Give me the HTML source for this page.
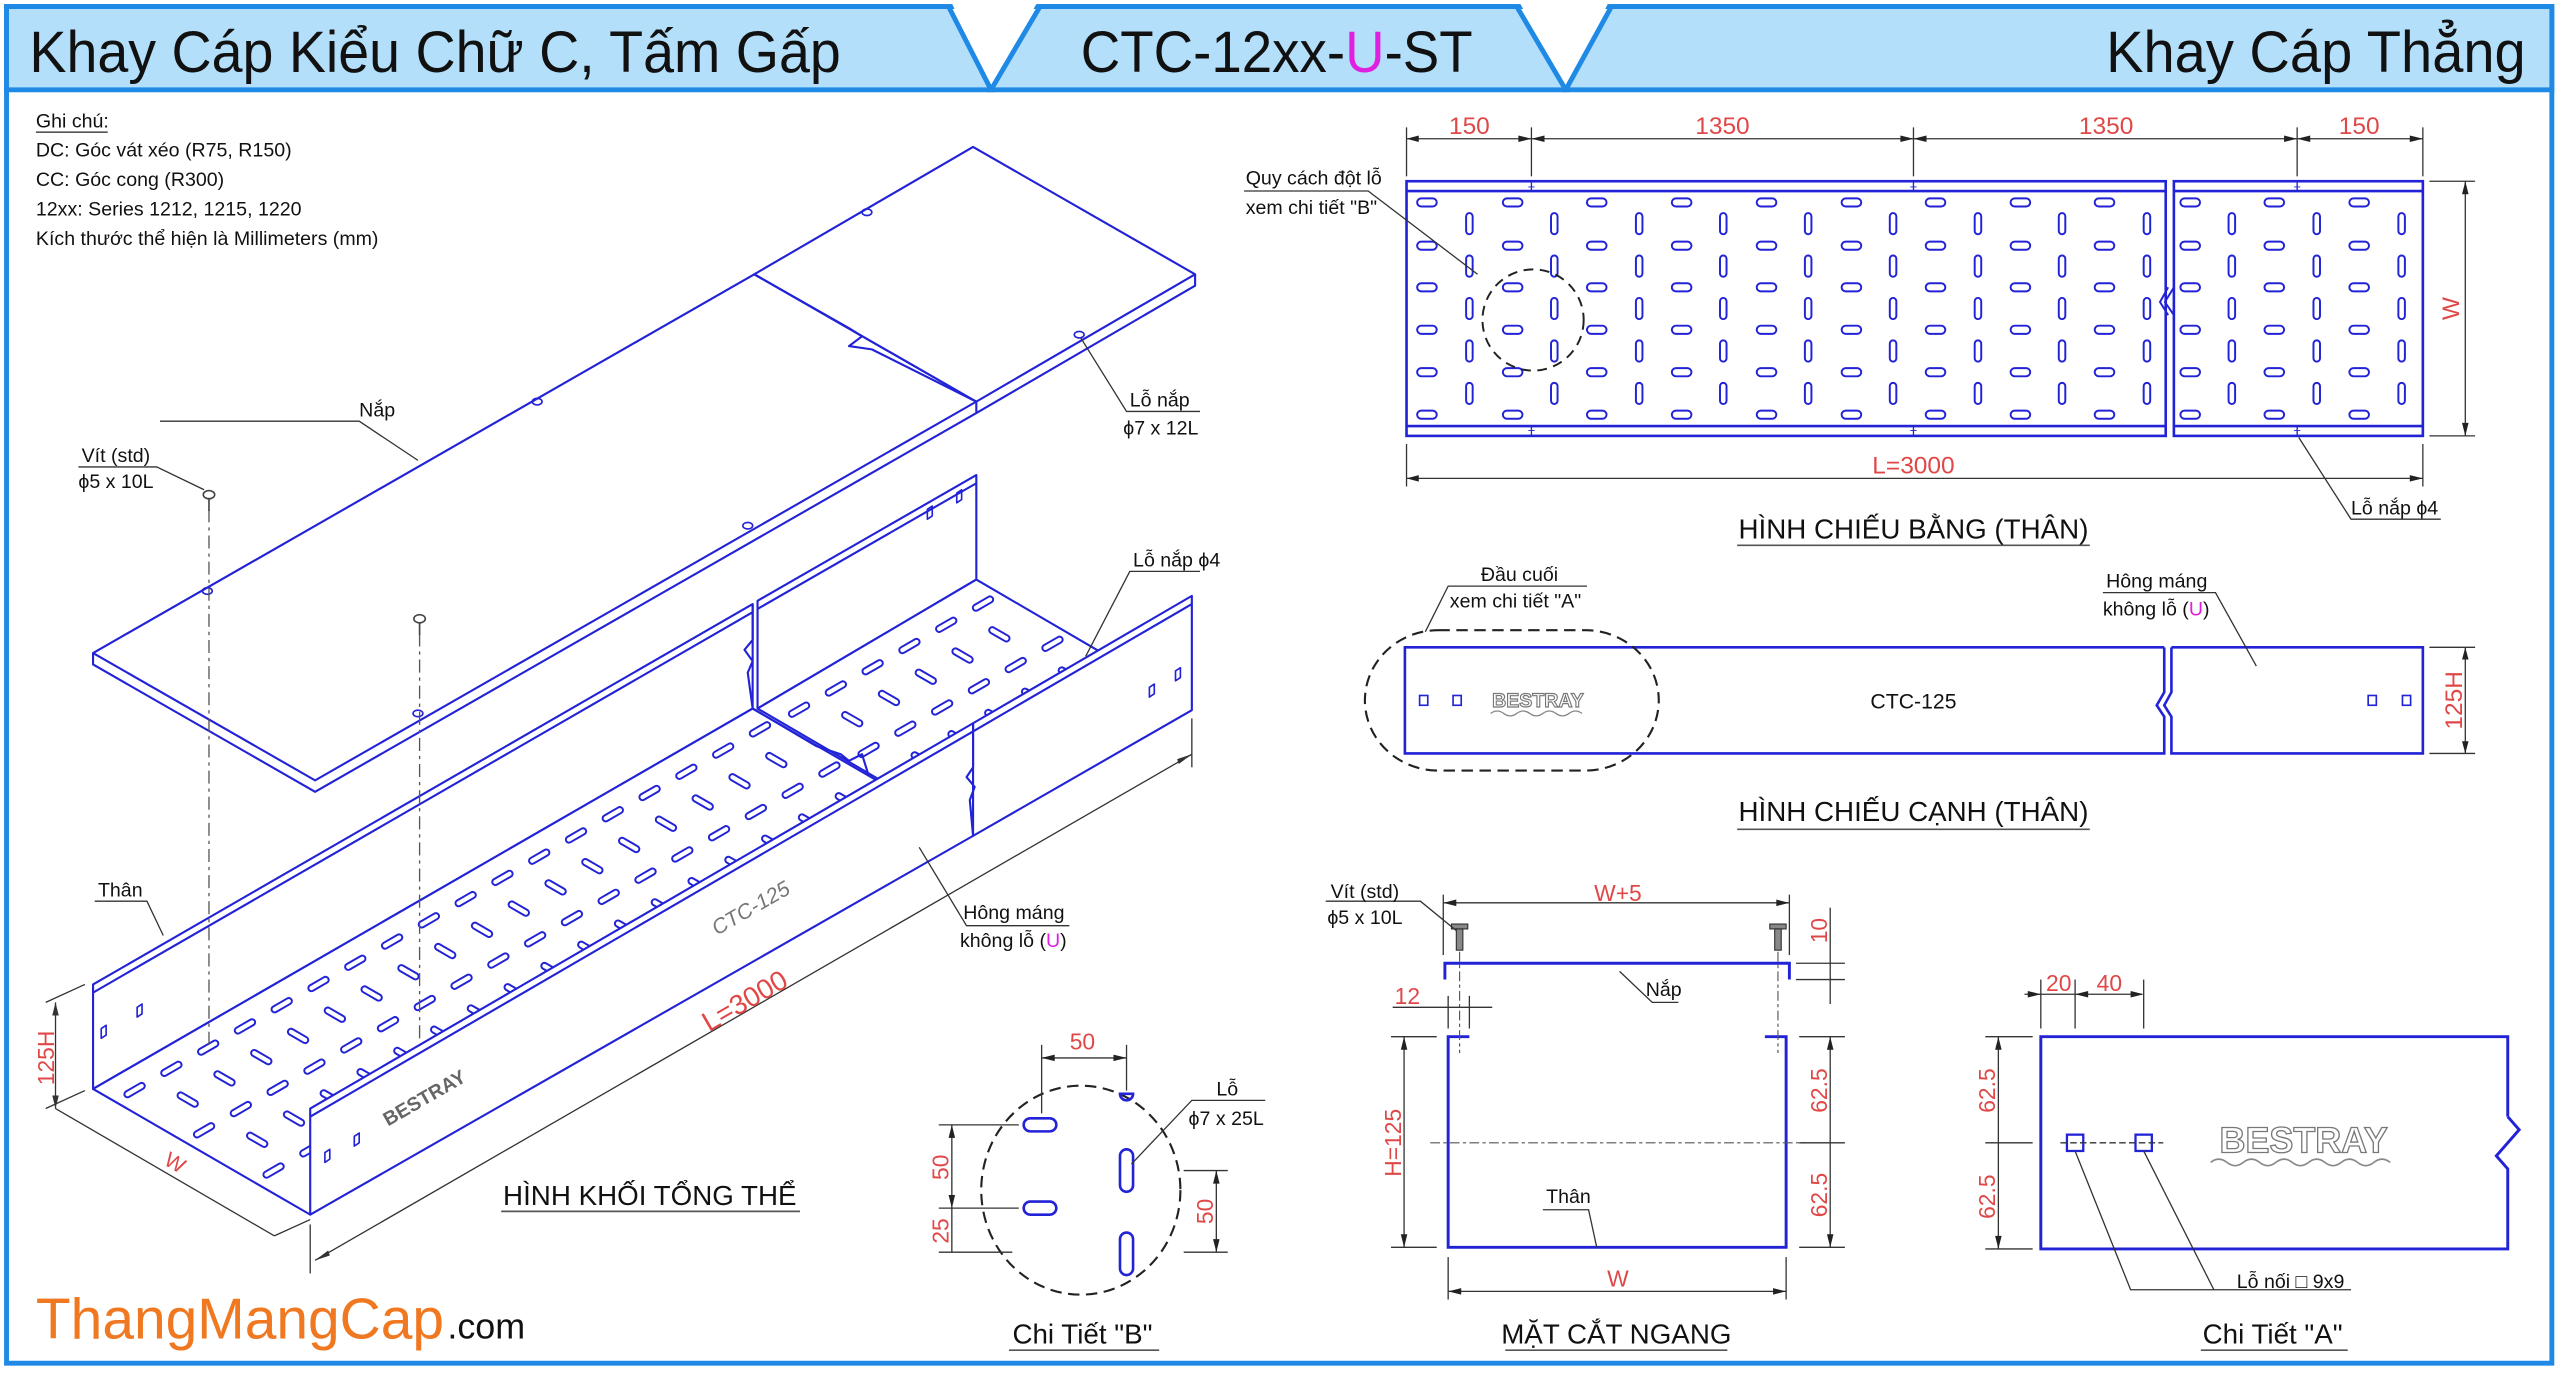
<!DOCTYPE html>
<html><head><meta charset="utf-8">
<style>
html,body{margin:0;padding:0;background:#fff;}
svg{display:block;}
text{font-family:"Liberation Sans",sans-serif;}
</style></head>
<body>
<svg id="s" width="2560" height="1373" viewBox="0 0 1568 841" preserveAspectRatio="none" xmlns="http://www.w3.org/2000/svg">
<rect x="0" y="0" width="1568" height="841" fill="#fff"/>
<rect x="4" y="4" width="1559" height="831" fill="none" stroke="#1e8ae6" stroke-width="3"/>
<polygon points="583,2 635,2 607,52" fill="#fff"/>
<polygon points="931,2 985,2 959,52" fill="#fff"/>
<!-- header -->
<g fill="#b3dffb" stroke="#1e8ae6" stroke-width="3" stroke-linejoin="miter">
<polygon points="4,4 581,4 607,55 4,55"/>
<polygon points="637,4 929,4 959,55 607,55"/>
<polygon points="987,4 1563,4 1563,55 959,55"/>
</g>
<text x="18" y="44" font-size="36" fill="#111" textLength="497" lengthAdjust="spacingAndGlyphs">Khay Cáp Kiểu Chữ C, Tấm Gấp</text>
<text x="662" y="44" font-size="36" fill="#111" textLength="240" lengthAdjust="spacingAndGlyphs">CTC-12xx-<tspan fill="#e020e0">U</tspan>-ST</text>
<text x="1290" y="44" font-size="36" fill="#111" textLength="257" lengthAdjust="spacingAndGlyphs">Khay Cáp Thẳng</text>

<!-- notes -->
<g font-size="12" fill="#111">
<text x="22" y="78">Ghi chú:</text>
<line x1="22" y1="81" x2="66" y2="81" stroke="#555" stroke-width="1"/>
<text x="22" y="96">DC: Góc vát xéo (R75, R150)</text>
<text x="22" y="114">CC: Góc cong (R300)</text>
<text x="22" y="132">12xx: Series 1212, 1215, 1220</text>
<text x="22" y="150">Kích thước thể hiện là Millimeters (mm)</text>
</g>

<g id="iso" stroke="#2222d6" stroke-width="1.3" fill="#fff" stroke-linejoin="round">
<polygon points="57,400 462,168 598,246 193,478"/>
<polyline points="57,400 57,407 193,485 598,253 598,246" fill="none"/>
<polygon points="462,168 596,90 732,168 598,246" />
<polyline points="598,253 732,175 732,168" fill="none"/>
<polyline points="462,168 520,201 528,206 520,212 534,214 598,246" fill="none"/>
<polygon points="57,603 461,370 461,434 57,667"/>
<line x1="57" y1="608" x2="461" y2="375"/>
<polygon points="464,368 598,291 598,355 464,434"/>
<line x1="464" y1="373" x2="598" y2="296"/>
<polyline points="461,370 461,392 456,398 461,405 458,412 461,434" fill="none"/>
<polygon points="57,667 461,434 594,511 190,744"/>
<polygon points="464,434 598,355 730,432 596,511"/>
</g>
<g id="slots"></g>
<g stroke="#2222d6" stroke-width="1.3" fill="#fff" stroke-linejoin="round">
<polyline points="461,434 500,457 515,462 520,466 528,462 532,475" fill="none"/>
<polygon points="190,679 596,443 596,512 190,744"/>
<line x1="190" y1="684" x2="596" y2="448"/>
<polygon points="596,443 730,365 730,435 596,512"/>
<line x1="596" y1="448" x2="730" y2="370"/>
<polyline points="596,443 596,470 592,476 597,482 594,490 596,512" fill="none"/>
<g fill="none" stroke-width="1">
<polygon points="62,630 65,628 65,634 62,636"/><polygon points="84,617 87,615 87,621 84,623"/>
<polygon points="199,706 202,704 202,710 199,712"/><polygon points="217,696 220,694 220,700 217,702"/>
<polygon points="704,421 707,419 707,425 704,427"/><polygon points="720,411 723,409 723,415 720,417"/>
<polygon points="568,312 571,310 571,316 568,318"/><polygon points="586,302 589,300 589,306 586,308"/>
</g>
<g fill="none" stroke-width="1">
<ellipse cx="127" cy="362" rx="3" ry="2"/><ellipse cx="329" cy="246" rx="3" ry="2"/><ellipse cx="531" cy="130" rx="3" ry="2"/>
<ellipse cx="256" cy="437" rx="3" ry="2"/><ellipse cx="458" cy="322" rx="3" ry="2"/><ellipse cx="661" cy="205" rx="3" ry="2"/>
</g>
</g>
<g stroke="#555" stroke-width="0.8" stroke-dasharray="8,3,2,3" fill="none">
<line x1="128" y1="312" x2="128" y2="640"/>
<line x1="257" y1="388" x2="257" y2="636"/>
</g>
<g fill="#fff" stroke="#444" stroke-width="1">
<ellipse cx="128" cy="303" rx="3.5" ry="2.5"/><line x1="128" y1="305" x2="128" y2="313"/>
<ellipse cx="257" cy="379" rx="3.5" ry="2.5"/><line x1="257" y1="381" x2="257" y2="389"/>
</g>
<g stroke="#333" stroke-width="0.8" fill="none">
<line x1="193" y1="772" x2="730" y2="462"/>
<line x1="190" y1="750" x2="190" y2="780"/><line x1="730" y1="440" x2="730" y2="470"/>
<line x1="34" y1="614" x2="34" y2="679"/>
<line x1="28" y1="614" x2="52" y2="603"/><line x1="28" y1="679" x2="52" y2="668"/>
<line x1="34" y1="679" x2="168" y2="757"/>
<line x1="168" y1="757" x2="190" y2="747"/>
<polyline points="98,258 220,258 256,282"/>
<polyline points="48,286 96,286 125,300"/>
<polyline points="58,552 90,552 100,573"/>
<polyline points="735,350 692,350 665,402"/>
<polyline points="735,252 690,252 662,207"/>
<polyline points="655,567 592,567 563,519"/>
</g>
<g fill="#333">
<polygon points="193,772 201,766 202,769"/><polygon points="730,462 722,468 721,465"/>
<polygon points="34,614 32,622 36,622"/><polygon points="34,679 32,671 36,671"/>
</g>
<g font-size="12" fill="#111">
<text x="220" y="255">Nắp</text>
<text x="50" y="283">Vít (std)</text><text x="48" y="299">ϕ5 x 10L</text>
<text x="60" y="549">Thân</text>
<text x="694" y="347">Lỗ nắp ϕ4</text>
<text x="692" y="249">Lỗ nắp</text><text x="688" y="266">ϕ7 x 12L</text>
<text x="590" y="563">Hông máng</text><text x="588" y="580">không lỗ (<tspan fill="#e020e0">U</tspan>)</text>
</g>
<text x="462" y="560" font-size="13" fill="#777" font-style="italic" transform="rotate(-30 462 560)" text-anchor="middle">CTC-125</text>
<text x="459" y="618" font-size="17" fill="#e04848" transform="rotate(-30 459 618)" text-anchor="middle">L=3000</text>
<text x="33" y="648" font-size="14" fill="#e04848" transform="rotate(-90 33 648)" text-anchor="middle">125H</text>
<text x="105" y="716" font-size="13" fill="#e04848" transform="rotate(30 105 716)" text-anchor="middle">W</text>
<text x="262" y="676" font-size="12" fill="#666" font-weight="bold" transform="rotate(-30 262 676)" text-anchor="middle">BESTRAY</text>
<text x="398" y="738" font-size="17" fill="#111" text-anchor="middle">HÌNH KHỐI TỔNG THỂ</text>
<line x1="307" y1="742" x2="490" y2="742" stroke="#555" stroke-width="1"/>

<!-- TOP PLAN -->
<g stroke="#2222d6" stroke-width="1.6" fill="none">
<rect x="861.5" y="111" width="465" height="156"/>
<rect x="1331.5" y="111" width="152.5" height="156"/>
<line x1="861.5" y1="117" x2="1326.5" y2="117"/><line x1="861.5" y1="261" x2="1326.5" y2="261"/>
<line x1="1331.5" y1="117" x2="1484" y2="117"/><line x1="1331.5" y1="261" x2="1484" y2="261"/>
</g>
<polyline points="1328,176 1323,185 1328,193" stroke="#2222d6" fill="none" stroke-width="1.2"/>
<polyline points="1331.5,176 1326,185 1331.5,193" stroke="#2222d6" fill="none" stroke-width="1.2"/>
<g id="plan"></g>
<ellipse cx="939" cy="196" rx="31" ry="31" fill="none" stroke="#222" stroke-width="1.2" stroke-dasharray="6,4"/>
<g stroke="#333" stroke-width="0.8" fill="none">
<line x1="861.5" y1="85" x2="1484" y2="85"/>
<line x1="861.5" y1="78" x2="861.5" y2="108"/><line x1="938" y1="78" x2="938" y2="108"/>
<line x1="1172" y1="78" x2="1172" y2="108"/><line x1="1407" y1="78" x2="1407" y2="108"/>
<line x1="1484" y1="78" x2="1484" y2="108"/>
<line x1="861.5" y1="293" x2="1484" y2="293"/>
<line x1="861.5" y1="272" x2="861.5" y2="298"/><line x1="1484" y1="272" x2="1484" y2="298"/>
<line x1="1510" y1="111" x2="1510" y2="267"/>
<line x1="1488" y1="111" x2="1516" y2="111"/><line x1="1488" y1="267" x2="1516" y2="267"/>
<polyline points="762,117 838,117 905,168"/>
<polyline points="1495,318 1440,318 1408,268"/>
</g>
<g fill="#222">
<polygon points="861.5,85 869,83 869,87"/><polygon points="938,85 930,83 930,87"/><polygon points="938,85 946,83 946,87"/>
<polygon points="1172,85 1164,83 1164,87"/><polygon points="1172,85 1180,83 1180,87"/>
<polygon points="1407,85 1399,83 1399,87"/><polygon points="1407,85 1415,83 1415,87"/><polygon points="1484,85 1476,83 1476,87"/>
<polygon points="861.5,293 869,291 869,295"/><polygon points="1484,293 1476,291 1476,295"/>
<polygon points="1510,111 1508,119 1512,119"/><polygon points="1510,267 1508,259 1512,259"/>
</g>
<g fill="#e04848" font-size="15" text-anchor="middle">
<text x="900" y="82">150</text><text x="1055" y="82">1350</text><text x="1290" y="82">1350</text><text x="1445" y="82">150</text>
<text x="1172" y="290">L=3000</text>
<text x="1506" y="189" transform="rotate(-90 1506 189)">W</text>
</g>
<g font-size="12" fill="#111">
<text x="763" y="113">Quy cách đột lỗ</text><text x="763" y="131">xem chi tiết "B"</text>
<text x="1440" y="315">Lỗ nắp ϕ4</text>
</g>
<text x="1172" y="330" font-size="17" fill="#111" text-anchor="middle">HÌNH CHIẾU BẰNG (THÂN)</text>
<line x1="1064" y1="334" x2="1280" y2="334" stroke="#555"/>

<!-- SIDE VIEW -->
<g stroke="#2222d6" stroke-width="1.6" fill="none">
<polyline points="1325.6,396.5 860.5,396.5 860.5,461.5 1325.6,461.5 1325.6,439 1321,432 1325.6,424 1325.6,396.5"/>
<polyline points="1330,396.5 1484,396.5 1484,461.5 1330,461.5 1330,439 1325.6,432 1330,424 1330,396.5"/>
<g stroke-width="1"><rect x="869.5" y="426" width="5" height="6"/><rect x="890" y="426" width="5" height="6"/>
<rect x="1450.5" y="426" width="5" height="6"/><rect x="1471.5" y="426" width="5" height="6"/></g>
</g>
<rect x="836" y="386" width="180" height="86" rx="45" ry="43" fill="none" stroke="#222" stroke-width="1.3" stroke-dasharray="7,4"/>
<text x="942" y="433" font-size="12" font-weight="bold" fill="#fff" stroke="#777" stroke-width="0.7" text-anchor="middle">BESTRAY</text>
<path d="M913 437 q4 -3 8 0 t8 0 t8 0 t8 0 t8 0 t8 0 t8 0" fill="none" stroke="#888" stroke-width="0.8"/>
<text x="1172" y="434" font-size="13" fill="#111" text-anchor="middle">CTC-125</text>
<g stroke="#333" stroke-width="0.8" fill="none">
<line x1="1510" y1="396.5" x2="1510" y2="461.5"/>
<line x1="1488" y1="396.5" x2="1516" y2="396.5"/><line x1="1488" y1="461.5" x2="1516" y2="461.5"/>
<polyline points="972,359 887,359 873,387"/>
<polyline points="1288,363 1357,363 1382,408"/>
</g>
<g fill="#222"><polygon points="1510,396.5 1508,404 1512,404"/><polygon points="1510,461.5 1508,454 1512,454"/></g>
<text x="1508" y="429" font-size="15" fill="#e04848" text-anchor="middle" transform="rotate(-90 1508 429)">125H</text>
<g font-size="12" fill="#111">
<text x="907" y="356">Đầu cuối</text><text x="888" y="372">xem chi tiết "A"</text>
<text x="1290" y="360">Hông máng</text><text x="1288" y="377">không lỗ (<tspan fill="#e020e0">U</tspan>)</text>
</g>
<text x="1172" y="503" font-size="17" fill="#111" text-anchor="middle">HÌNH CHIẾU CẠNH (THÂN)</text>
<line x1="1064" y1="508" x2="1280" y2="508" stroke="#555"/>

<!-- CROSS SECTION -->
<g stroke="#2222d6" stroke-width="1.8" fill="none">
<polyline points="885,600 885,590 1096,590 1096,600"/>
<polyline points="900,635 887,635 887,764 1094,764 1094,635 1081,635"/>
</g>
<g stroke="#555" stroke-width="0.7" fill="none" stroke-dasharray="6,2,2,2">
<line x1="894" y1="583" x2="894" y2="645"/><line x1="1089" y1="583" x2="1089" y2="645"/>
<line x1="876" y1="700" x2="1106" y2="700"/>
</g>
<g fill="#888" stroke="#333" stroke-width="0.7">
<rect x="889" y="566" width="10" height="3"/><rect x="892" y="569" width="4" height="13"/>
<rect x="1084" y="566" width="10" height="3"/><rect x="1087" y="569" width="4" height="13"/>
</g>
<g stroke="#333" stroke-width="0.8" fill="none">
<line x1="884" y1="553" x2="1096" y2="553"/>
<line x1="884" y1="548" x2="884" y2="585"/><line x1="1096" y1="548" x2="1096" y2="585"/>
<line x1="1121" y1="556" x2="1121" y2="615"/>
<line x1="1100" y1="590" x2="1130" y2="590"/><line x1="1100" y1="600" x2="1130" y2="600"/>
<line x1="853" y1="617" x2="914" y2="617"/>
<line x1="887" y1="610" x2="887" y2="630"/><line x1="900" y1="610" x2="900" y2="630"/>
<line x1="860" y1="635" x2="860" y2="764"/>
<line x1="852" y1="635" x2="880" y2="635"/><line x1="852" y1="764" x2="880" y2="764"/>
<line x1="1121" y1="635" x2="1121" y2="764"/>
<line x1="1102" y1="635" x2="1130" y2="635"/><line x1="1102" y1="764" x2="1130" y2="764"/><line x1="1102" y1="700" x2="1130" y2="700"/>
<line x1="887" y1="770" x2="887" y2="796"/><line x1="1094" y1="770" x2="1094" y2="796"/>
<line x1="887" y1="791" x2="1094" y2="791"/>
<polyline points="812,552 870,552 892,570"/>
<polyline points="1028,614 1012,614 992,595"/>
<polyline points="945,741 973,741 978,764"/>
</g>
<g fill="#222">
<polygon points="884,553 892,551 892,555"/><polygon points="1096,553 1088,551 1088,555"/>
<polygon points="860,635 858,643 862,643"/><polygon points="860,764 858,756 862,756"/>
<polygon points="1121,635 1119,643 1123,643"/><polygon points="1121,764 1119,756 1123,756"/>
<polygon points="887,791 895,789 895,793"/><polygon points="1094,791 1086,789 1086,793"/>
</g>
<g fill="#e04848" font-size="14" text-anchor="middle">
<text x="991" y="552">W+5</text><text x="862" y="615">12</text><text x="991" y="788">W</text>
<text x="858" y="700" transform="rotate(-90 858 700)">H=125</text>
<text x="1119" y="570" transform="rotate(-90 1119 570)">10</text>
<text x="1119" y="668" transform="rotate(-90 1119 668)">62.5</text>
<text x="1119" y="732" transform="rotate(-90 1119 732)">62.5</text>
</g>
<g font-size="12" fill="#111">
<text x="815" y="550">Vít (std)</text><text x="813" y="566">ϕ5 x 10L</text>
<text x="1008" y="610">Nắp</text><text x="947" y="737">Thân</text>
</g>
<text x="990" y="823" font-size="17" fill="#111" text-anchor="middle">MẶT CẮT NGANG</text>
<line x1="922" y1="827" x2="1058" y2="827" stroke="#555"/>

<!-- DETAIL A -->
<polyline points="1536,684 1536,635 1250,635 1250,765 1536,765 1536,716 1529,708 1543,692 1536,684" fill="none" stroke="#2222d6" stroke-width="1.8"/>
<g stroke="#2222d6" stroke-width="1.4" fill="none"><rect x="1266" y="695" width="10" height="10"/><rect x="1308" y="695" width="10" height="10"/></g>
<text x="1411" y="706" font-size="22" font-weight="bold" fill="#fff" stroke="#777" stroke-width="0.8" text-anchor="middle">BESTRAY</text>
<path d="M1354 712 q5 -4 10 0 t10 0 t10 0 t10 0 t10 0 t10 0 t10 0 t10 0 t10 0 t10 0 t10 0" fill="none" stroke="#888" stroke-width="1"/>
<g stroke="#333" stroke-width="0.8" fill="none">
<line x1="1240" y1="609" x2="1312" y2="609"/>
<line x1="1250" y1="600" x2="1250" y2="630"/><line x1="1271" y1="600" x2="1271" y2="630"/><line x1="1313" y1="600" x2="1313" y2="630"/>
<line x1="1224" y1="635" x2="1224" y2="765"/>
<line x1="1216" y1="635" x2="1245" y2="635"/><line x1="1216" y1="765" x2="1245" y2="765"/><line x1="1216" y1="700" x2="1245" y2="700"/>
<line x1="1262" y1="700" x2="1325" y2="700" stroke-dasharray="4,2"/>
<polyline points="1271,705 1305,790 1440,790"/>
<polyline points="1313,705 1356,790"/>
</g>
<g fill="#222">
<polygon points="1250,609 1242,607 1242,611"/><polygon points="1271,609 1279,607 1279,611"/><polygon points="1313,609 1305,607 1305,611"/>
<polygon points="1224,635 1222,643 1226,643"/><polygon points="1224,765 1222,757 1226,757"/>
</g>
<g fill="#e04848" font-size="14" text-anchor="middle">
<text x="1261" y="607">20</text><text x="1292" y="607">40</text>
<text x="1222" y="668" transform="rotate(-90 1222 668)">62.5</text>
<text x="1222" y="733" transform="rotate(-90 1222 733)">62.5</text>
</g>
<text x="1370" y="789" font-size="12" fill="#111">Lỗ nối □ 9x9</text>
<text x="1392" y="823" font-size="17" fill="#111" text-anchor="middle">Chi Tiết "A"</text>
<line x1="1348" y1="827" x2="1438" y2="827" stroke="#555"/>

<!-- DETAIL B -->
<ellipse cx="662" cy="729" rx="61" ry="64" fill="none" stroke="#222" stroke-width="1.3" stroke-dasharray="7,4"/>
<g stroke="#2222d6" stroke-width="1.6" fill="none">
<rect x="627" y="685" width="20" height="8" rx="4"/>
<rect x="627" y="736" width="20" height="8" rx="4"/>
<rect x="686" y="704" width="8" height="26" rx="4"/>
<rect x="686" y="755" width="8" height="26" rx="4"/>
<path d="M686,670 a4,4 0 0 0 8,0 z"/>
</g>
<g stroke="#333" stroke-width="0.8" fill="none">
<line x1="638" y1="648" x2="690" y2="648"/>
<line x1="638" y1="640" x2="638" y2="682"/><line x1="690" y1="640" x2="690" y2="668"/>
<line x1="583" y1="689" x2="583" y2="767"/>
<line x1="575" y1="689" x2="624" y2="689"/><line x1="575" y1="740" x2="624" y2="740"/><line x1="575" y1="767" x2="620" y2="767"/>
<line x1="745" y1="717" x2="745" y2="767"/>
<line x1="725" y1="717" x2="752" y2="717"/><line x1="725" y1="767" x2="752" y2="767"/>
<polyline points="775,674 730,674 693,713"/>
</g>
<g fill="#222">
<polygon points="638,648 646,646 646,650"/><polygon points="690,648 682,646 682,650"/>
<polygon points="583,689 581,697 585,697"/><polygon points="583,740 581,732 585,732"/>
<polygon points="745,717 743,725 747,725"/><polygon points="745,767 743,759 747,759"/>
</g>
<g fill="#e04848" font-size="14" text-anchor="middle">
<text x="663" y="643">50</text>
<text x="581" y="715" transform="rotate(-90 581 715)">50</text>
<text x="581" y="754" transform="rotate(-90 581 754)">25</text>
<text x="743" y="742" transform="rotate(-90 743 742)">50</text>
</g>
<g font-size="12" fill="#111"><text x="745" y="671">Lỗ</text><text x="728" y="689">ϕ7 x 25L</text></g>
<text x="663" y="823" font-size="17" fill="#111" text-anchor="middle">Chi Tiết "B"</text>
<line x1="618" y1="827" x2="710" y2="827" stroke="#555"/>

<!-- footer -->
<text x="22" y="820" font-size="35" fill="#f07820" textLength="250" lengthAdjust="spacingAndGlyphs">ThangMangCap</text>
<text x="274" y="820" font-size="22" fill="#111">.com</text>
</svg>
<script>
(function(){
var NS="http://www.w3.org/2000/svg";
var plan=document.getElementById("plan");
function el(p,t,a){var e=document.createElementNS(NS,t);for(var k in a)e.setAttribute(k,a[k]);p.appendChild(e);return e;}
var hx=[874,926.5,978,1030,1082,1134,1185.5,1237.5,1289,1341.5,1393,1445];
var hy=[124,150.5,176,202,228,254];
var vx=[900,952,1004,1055.5,1107.5,1159.5,1211.5,1263,1315,1367,1419,1471];
var vy=[137,163,189,215,241];
hx.forEach(function(x){hy.forEach(function(y){el(plan,"rect",{x:x-6,y:y-2.5,width:12,height:5,rx:2.5,fill:"none",stroke:"#2222d6","stroke-width":1.2});});});
vx.forEach(function(x){vy.forEach(function(y){el(plan,"rect",{x:x-2,y:y-6.5,width:4,height:13,rx:2,fill:"none",stroke:"#2222d6","stroke-width":1.2});});});
[[861.5,111],[938,111],[1172,111],[1407,111],[861.5,267],[938,267],[1172,267],[1407,267]].forEach(function(p){
 el(plan,"line",{x1:p[0],y1:p[1],x2:p[0],y2:p[1]+(p[1]<200?6:-6),stroke:"#2222d6","stroke-width":0.8});});
[938,1172,1407].forEach(function(x){el(plan,"text",{x:x,y:117,"font-size":8,fill:"#2222d6","text-anchor":"middle"}).textContent="+";el(plan,"text",{x:x,y:266,"font-size":8,fill:"#2222d6","text-anchor":"middle"}).textContent="+";});
var g=document.getElementById("slots");
var L=[0.8666,-0.4999], Wv=[133,77];
function seg(ox,oy,len){
 var rows=[0.1,0.26,0.42,0.58,0.74,0.9];
 for(var r=0;r<rows.length;r++){
  var s=rows[r]; var off=(r%2)?13:0;
  for(var t=14+off;t<len-6;t+=26){
   var cx=ox+L[0]*t+Wv[0]*s, cy=oy+L[1]*t+Wv[1]*s;
   var d=(r%2)?[0.866,0.5]:[0.866,-0.5];
   var l=5;
   el(g,"line",{x1:cx-d[0]*l,y1:cy-d[1]*l,x2:cx+d[0]*l,y2:cy+d[1]*l,stroke:"#2222d6","stroke-width":5,"stroke-linecap":"round"});
   el(g,"line",{x1:cx-d[0]*l,y1:cy-d[1]*l,x2:cx+d[0]*l,y2:cy+d[1]*l,stroke:"#fff","stroke-width":2.6,"stroke-linecap":"round"});
  }
 }
}
seg(57,667,466);
seg(464,434,155);
})();
</script>
</body></html>
